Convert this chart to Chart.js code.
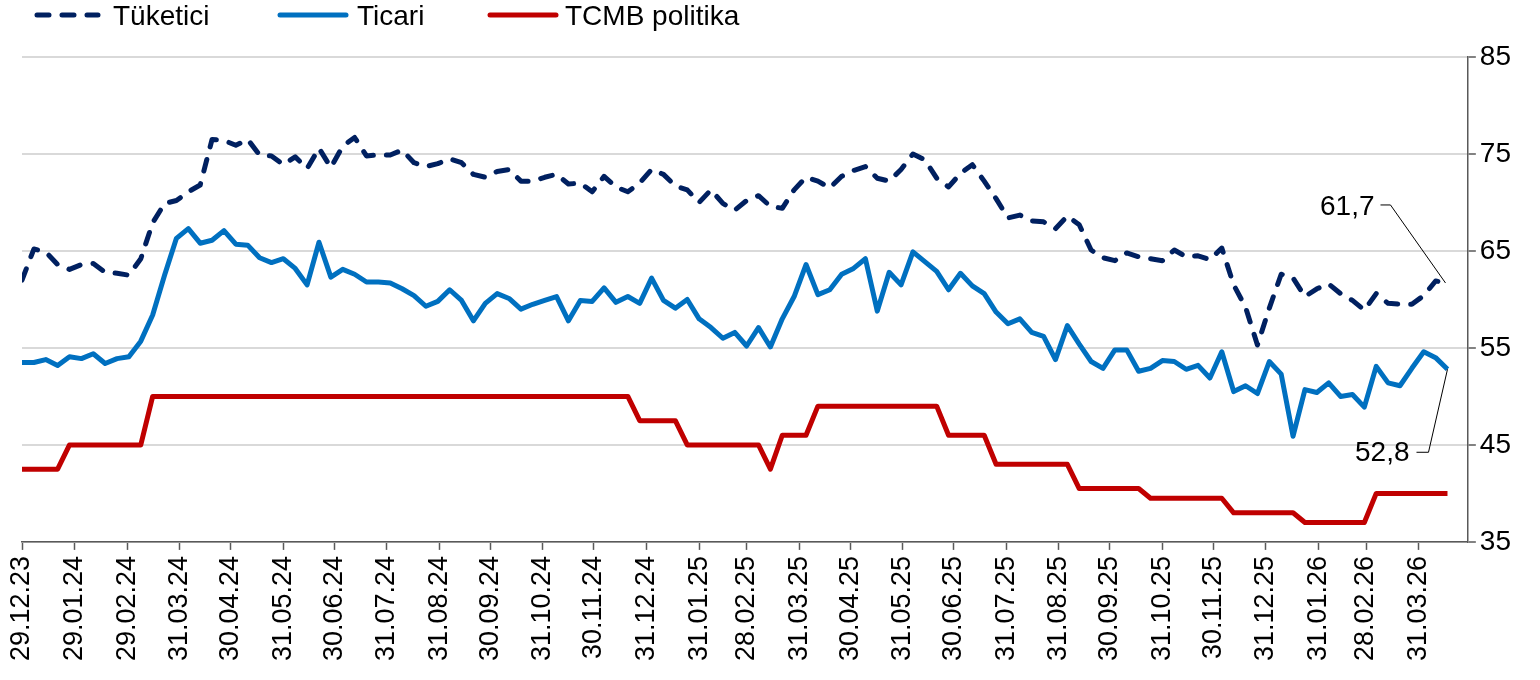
<!DOCTYPE html>
<html>
<head>
<meta charset="utf-8">
<script src="https://cdn.jsdelivr.net/npm/chart.js@4.4.1/dist/chart.umd.min.js"></script>
<style>
  html, body { margin: 0; padding: 0; background: #fff; }
  #wrap { width: 1540px; height: 680px; position: relative; }
</style>
</head>
<body>
<div id="wrap"><canvas id="myChart"></canvas></div>
<script>
// weekly data, first week 29.12.23
const startDate = [2023, 12, 29];

const tickLabels = ['29.12.23', '29.01.24', '29.02.24', '31.03.24', '30.04.24', '31.05.24', '30.06.24',
	'31.07.24', '31.08.24', '30.09.24', '31.10.24', '30.11.24', '31.12.24', '31.01.25', '28.02.25',
	'31.03.25', '30.04.25', '31.05.25', '30.06.25', '31.07.25', '31.08.25', '30.09.25', '31.10.25',
	'30.11.25', '31.12.25', '31.01.26', '28.02.26', '31.03.26'];

const yTicks = [35, 45, 55, 65, 75, 85];

const seriesNames = ['Tüketici', 'Ticari', 'TCMB politika'];

const tuketici = [
	62.0, 65.2, 64.9, 63.6, 63.1, 63.6, 63.7, 62.8, 62.7, 62.5,
	64.2, 67.9, 69.9, 70.2, 71.1, 71.8, 76.5, 76.4, 75.9, 76.5,
	74.9, 74.8, 73.9, 74.7, 73.5, 75.6, 73.6, 75.8, 76.7, 74.8,
	74.9, 74.9, 75.4, 74.1, 73.7, 74.0, 74.5, 74.1, 72.9, 72.6,
	73.2, 73.4, 72.2, 72.2, 72.6, 72.9, 71.9, 72.0, 71.1, 72.7,
	71.6, 71.1, 72.0, 73.4, 72.9, 71.7, 71.3, 70.0, 71.3, 69.9,
	69.2, 70.2, 70.7, 69.6, 69.4, 71.3, 72.6, 72.2, 71.5, 72.7,
	73.3, 73.7, 72.5, 72.2, 73.4, 75.0, 74.4, 72.5, 71.6, 73.0,
	73.9, 72.2, 70.4, 68.4, 68.7, 68.1, 68.0, 67.3, 68.6, 67.7,
	65.1, 64.3, 64.0, 64.8, 64.4, 64.2, 64.0, 65.1, 64.4, 64.5,
	64.1, 65.3, 61.5, 59.2, 55.3, 59.1, 62.6, 62.2, 60.3, 61.1,
	61.6, 60.6, 59.9, 58.9, 60.6, 59.6, 59.5, 59.5, 60.4, 61.9,
	61.7
];

const ticari = [
	53.5, 53.5, 53.8, 53.2, 54.1, 53.9, 54.4, 53.4, 53.9, 54.1,
	55.7, 58.4, 62.5, 66.3, 67.3, 65.8, 66.1, 67.1, 65.7, 65.6,
	64.3, 63.8, 64.2, 63.2, 61.5, 65.9, 62.3, 63.1, 62.6, 61.8,
	61.8, 61.7, 61.1, 60.4, 59.3, 59.8, 61.0, 59.9, 57.8, 59.6,
	60.6, 60.1, 59.0, 59.5, 59.9, 60.3, 57.8, 59.9, 59.8, 61.2,
	59.7, 60.3, 59.6, 62.2, 59.9, 59.1, 60.0, 58.0, 57.1, 56.0,
	56.6, 55.2, 57.1, 55.1, 58.0, 60.3, 63.6, 60.5, 61.0, 62.6,
	63.2, 64.2, 58.8, 62.8, 61.5, 64.9, 63.9, 62.9, 61.0, 62.7,
	61.4, 60.6, 58.7, 57.5, 58.0, 56.6, 56.2, 53.8, 57.3, 55.4,
	53.6, 52.9, 54.8, 54.8, 52.6, 52.9, 53.7, 53.6, 52.8, 53.2,
	51.9, 54.6, 50.5, 51.1, 50.3, 53.6, 52.3, 45.9, 50.7, 50.4,
	51.4, 50.0, 50.2, 48.9, 53.1, 51.4, 51.1, 52.9, 54.6, 54.0,
	52.8
];

const tcmb = [
	42.5, 42.5, 42.5, 42.5, 45, 45, 45, 45, 45, 45,
	45, 50, 50, 50, 50, 50, 50, 50, 50, 50,
	50, 50, 50, 50, 50, 50, 50, 50, 50, 50,
	50, 50, 50, 50, 50, 50, 50, 50, 50, 50,
	50, 50, 50, 50, 50, 50, 50, 50, 50, 50,
	50, 50, 47.5, 47.5, 47.5, 47.5, 45, 45, 45, 45,
	45, 45, 45, 42.5, 46, 46, 46, 49, 49, 49,
	49, 49, 49, 49, 49, 49, 49, 49, 46, 46,
	46, 46, 43, 43, 43, 43, 43, 43, 43, 40.5,
	40.5, 40.5, 40.5, 40.5, 40.5, 39.5, 39.5, 39.5, 39.5, 39.5,
	39.5, 39.5, 38, 38, 38, 38, 38, 38, 37, 37,
	37, 37, 37, 37, 40, 40, 40, 40, 40, 40,
	40
];

const FONT = 'Liberation Sans';
const t0 = Date.UTC(startDate[0], startDate[1] - 1, startDate[2]);

function dayOf(label) {
	const [d, m, y] = label.split('.').map(Number);
	return (Date.UTC(2000 + y, m - 1, d) - t0) / 86400000;
}

const tickDays = tickLabels.map(dayOf);
const toPoints = arr => arr.map((v, i) => ({ x: i * 7, y: v }));
const fmt = v => v.toFixed(1).replace('.', ',');

// legend drawn on top of the canvas, one entry per dataset
const legendPos = [{ x: 37, w: 61, tx: 113 }, { x: 280, w: 66, tx: 357 }, { x: 490, w: 66, tx: 565 }];

const topLegend = {
	id: 'topLegend',
	afterDraw(chart) {
		const ctx = chart.ctx;
		chart.data.datasets.forEach((ds, i) => {
			const p = legendPos[i];
			ctx.save();
			ctx.strokeStyle = ds.borderColor;
			ctx.lineWidth = 5;
			ctx.lineCap = 'round';
			ctx.setLineDash(ds.borderDash || []);
			ctx.beginPath();
			ctx.moveTo(p.x, 15);
			ctx.lineTo(p.x + p.w, 15);
			ctx.stroke();
			ctx.setLineDash([]);
			ctx.fillStyle = '#000';
			ctx.font = '28px "' + FONT + '"';
			ctx.textBaseline = 'alphabetic';
			ctx.fillText(ds.label, p.tx, 25);
			ctx.restore();
		});
	}
};

// callouts for the last values
const lastLabels = {
	id: 'lastLabels',
	afterDatasetsDraw(chart) {
		const ctx = chart.ctx;
		const m0 = chart.getDatasetMeta(0).data;
		const m1 = chart.getDatasetMeta(1).data;
		const a = m0[m0.length - 1];
		const b = m1[m1.length - 1];
		ctx.save();
		ctx.strokeStyle = '#000';
		ctx.lineWidth = 1;
		ctx.beginPath();
		ctx.moveTo(a.x - 2, a.y);
		ctx.lineTo(a.x - 57, a.y - 78);
		ctx.lineTo(a.x - 67, a.y - 78);
		ctx.moveTo(b.x, b.y);
		ctx.lineTo(b.x - 19, b.y + 83);
		ctx.lineTo(b.x - 31, b.y + 83);
		ctx.stroke();
		ctx.fillStyle = '#000';
		ctx.font = '28px "' + FONT + '"';
		ctx.textAlign = 'right';
		ctx.textBaseline = 'middle';
		ctx.fillText(fmt(tuketici[tuketici.length - 1]), a.x - 73, a.y - 76);
		ctx.fillText(fmt(ticari[ticari.length - 1]), b.x - 38, b.y + 84);
		ctx.restore();
	}
};

const ctx = document.getElementById('myChart').getContext('2d');

new Chart(ctx, {
	type: 'line',
	data: {
		datasets: [{
			label: seriesNames[0],
			data: toPoints(tuketici),
			borderColor: '#002060',
			borderWidth: 5,
			borderDash: [12, 13],
			borderCapStyle: 'round',
			borderJoinStyle: 'round',
			pointRadius: 0,
			tension: 0
		}, {
			label: seriesNames[1],
			data: toPoints(ticari),
			borderColor: '#0070C0',
			borderWidth: 5,
			borderJoinStyle: 'round',
			pointRadius: 0,
			tension: 0
		}, {
			label: seriesNames[2],
			data: toPoints(tcmb),
			borderColor: '#C00000',
			borderWidth: 5,
			borderJoinStyle: 'round',
			pointRadius: 0,
			tension: 0
		}]
	},
	options: {
		responsive: true,
		maintainAspectRatio: false,
		animation: false,
		layout: {
			padding: { left: 22, top: 57, right: 25, bottom: 13 }
		},
		scales: {
			x: {
				type: 'linear',
				min: 0,
				max: 852,
				afterBuildTicks: scale => {
					scale.ticks = tickDays.map(v => ({ value: v }));
				},
				ticks: {
					autoSkip: false,
					minRotation: 90,
					maxRotation: 90,
					padding: 6,
					color: '#000',
					font: { family: FONT, size: 27 },
					callback: (value, index) => tickLabels[index]
				},
				grid: {
					drawOnChartArea: false,
					drawTicks: true,
					tickLength: 8,
					tickColor: '#595959',
					tickWidth: 1.5
				},
				border: { color: '#595959', width: 1.5 }
			},
			y: {
				position: 'right',
				min: 35,
				max: 85,
				afterBuildTicks: scale => {
					scale.ticks = yTicks.map(v => ({ value: v }));
				},
				ticks: {
					padding: 4,
					color: '#000',
					font: { family: FONT, size: 28 }
				},
				grid: {
					color: '#d9d9d9',
					lineWidth: 2,
					tickLength: 8,
					tickColor: '#595959',
					tickWidth: 1.5
				},
				border: { color: '#595959', width: 1.5 }
			}
		},
		plugins: {
			legend: { display: false },
			tooltip: { enabled: false }
		}
	},
	plugins: [topLegend, lastLabels]
});
</script>
</body>
</html>
